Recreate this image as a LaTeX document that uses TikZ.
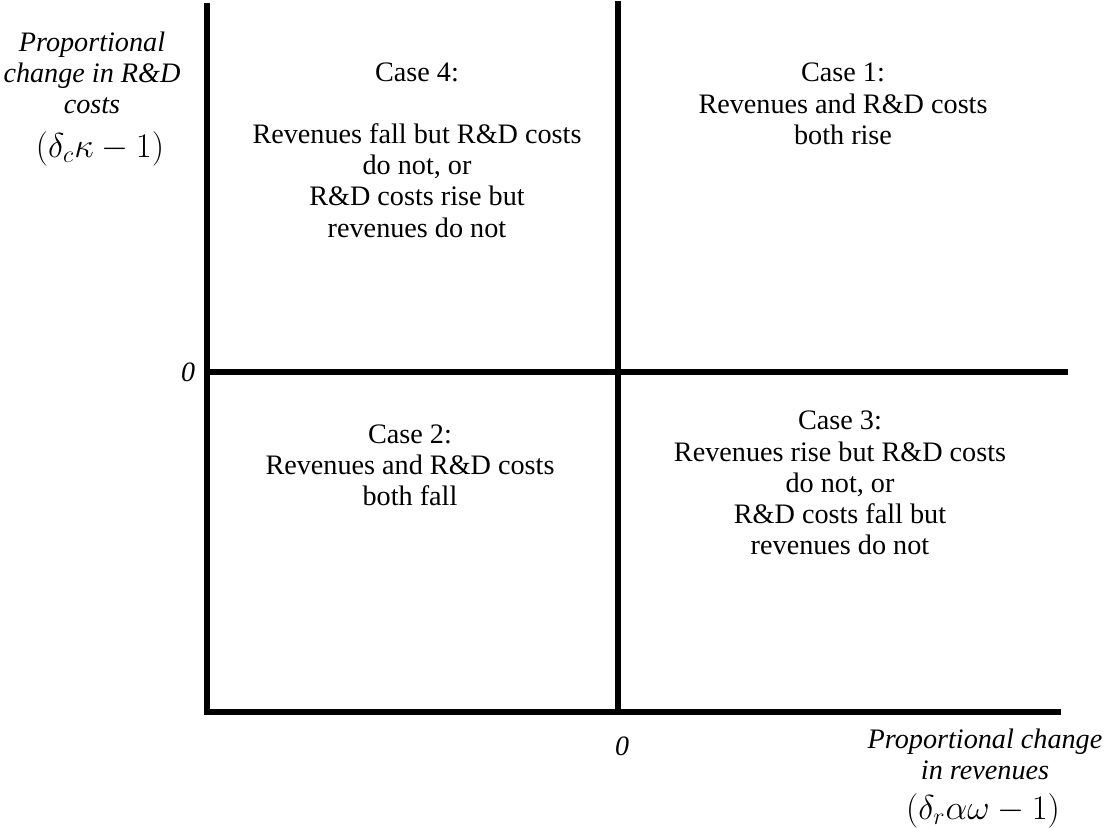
\documentclass[tikz,border=0pt]{standalone}
\usepackage{fontspec}
\setmainfont{Liberation Serif}
\begin{document}
\begin{tikzpicture}[x=0.5pt,y=-0.5pt,
  axis/.style={line width=2.6pt,line cap=rect},
  casetext/.style={align=center,font=\fontsize{14.1}{15.6}\selectfont,inner sep=0pt},
  axlabel/.style={align=center,font=\fontsize{14.1}{15.6}\selectfont\itshape,inner sep=0pt},
  mathlabel/.style={inner sep=0pt,font=\fontsize{17.5}{20}\selectfont},
  zero/.style={inner sep=0pt,font=\fontsize{14}{15.5}\selectfont\itshape}]
\useasboundingbox (0,0) rectangle (1106,828);
% axes
\coordinate (ytop) at (207,6);
\coordinate (origin) at (207,712);
\coordinate (xend) at (1058,712);
\coordinate (mtop) at (618,4);
\coordinate (mbot) at (618,712);
\coordinate (hl) at (210,372);
\coordinate (hr) at (1065,372);
\draw[axis] (ytop) -- (origin) -- (xend);
\draw[axis] (mtop) -- (mbot);
\draw[axis] (hl) -- (hr);
% case texts
\node[casetext] (c4) at (417,150) {Case 4:\\[15.6pt]Revenues fall but R\&D costs\\do not, or\\R\&D costs rise but\\revenues do not};
\node[casetext] (c1) at (843,104) {Case 1:\\Revenues and R\&D costs\\both rise};
\node[casetext] (c2) at (410,465) {Case 2:\\Revenues and R\&D costs\\both fall};
\node[casetext] (c3) at (840,483) {Case 3:\\Revenues rise but R\&D costs\\do not, or\\R\&D costs fall but\\revenues do not};
% axis labels
\node[axlabel] (yl) at (92,73) {Proportional\\change in R\&D\\costs};
\node[mathlabel] (ym) at (100,149) {$(\delta_c\kappa - 1)$};
\node[axlabel] (xl) at (985,754) {Proportional change\\in revenues};
\node[mathlabel] (xm) at (983,811) {$(\delta_r\alpha\omega - 1)$};
\node[zero] (z1) at (188,372) {0};
\node[zero] (z2) at (622,746) {0};
\end{tikzpicture}
\end{document}
